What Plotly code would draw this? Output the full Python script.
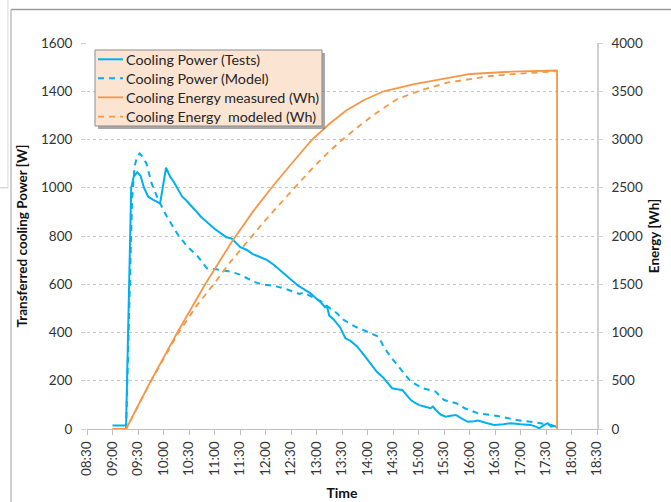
import pandas as pd
import plotly.graph_objects as go

DAY = "2020-06-15 "

# Cooling power measured during the test [W]
test_time = ["09:00", "09:15", "09:16", "09:22", "09:25", "09:29", "09:33", "09:37", "09:42", "09:48",
             "09:56", "10:03", "10:08", "10:12", "10:18", "10:22", "10:26", "10:32", "10:37", "10:44",
             "10:50", "10:55", "11:00", "11:08", "11:14", "11:20", "11:24", "11:30", "11:38", "11:45",
             "11:52", "12:02", "12:10", "12:20", "12:30", "12:38", "12:45", "12:53", "13:00", "13:05",
             "13:10", "13:12", "13:15", "13:20", "13:28", "13:34", "13:40", "13:48", "13:55", "14:00",
             "14:06", "14:11", "14:18", "14:25", "14:29", "14:35", "14:41", "14:46", "14:51", "14:55",
             "15:01", "15:08", "15:14", "15:17", "15:20", "15:26", "15:32", "15:38", "15:44", "15:50",
             "15:58", "16:05", "16:10", "16:20", "16:29", "16:40", "16:49", "17:00", "17:12", "17:18",
             "17:22", "17:27", "17:32", "17:36", "17:40", "17:43"]
test_power = [14, 14, 14, 1000, 1046, 1064, 1050, 1000, 963, 950,
              935, 1083, 1045, 1025, 990, 963, 950, 925, 908, 880,
              860, 845, 830, 810, 795, 790, 775, 755, 742, 725,
              715, 700, 680, 650, 617, 595, 580, 562, 540, 525,
              505, 512, 470, 455, 420, 376, 365, 341, 310, 286,
              260, 237, 215, 185, 169, 165, 162, 140, 120, 110,
              99, 92, 86, 93, 80, 60, 51, 55, 58, 45,
              30, 32, 35, 25, 17, 20, 24, 20, 17, 10,
              3, 15, 24, 10, 12, 8]

# Cooling power predicted by the model [W]
model_time = ["09:16", "09:20", "09:23", "09:26", "09:29", "09:32", "09:35", "09:40", "09:46", "09:54",
              "10:04", "10:16", "10:28", "10:39", "10:51", "11:00", "11:10", "11:19", "11:30", "11:40",
              "11:46", "11:55", "12:10", "12:20", "12:33", "12:40", "12:45", "12:57", "13:05", "13:11",
              "13:16", "13:20", "13:28", "13:32", "13:45", "13:56", "14:05", "14:13", "14:19", "14:27",
              "14:35", "14:43", "14:51", "15:05", "15:14", "15:20", "15:30", "15:45", "15:55", "16:10",
              "16:33", "16:50", "16:56", "17:20", "17:36", "17:42"]
model_power = [0, 500, 950, 1090, 1130, 1142, 1130, 1100, 1018, 949,
               880, 811, 756, 721, 666, 663, 658, 652, 640, 622,
               611, 600, 593, 585, 569, 560, 565, 542, 530, 514,
               500, 493, 465, 452, 425, 410, 395, 383, 341, 300,
               265, 230, 196, 169, 160, 155, 120, 106, 85, 65,
               54, 42, 37, 26, 17, 10]

# Cumulative cooling energy [Wh]
energy_meas_time = ["09:00", "09:16", "09:44", "10:16", "10:49", "11:00", "11:20", "11:45", "12:08", "12:33",
                    "12:55", "13:16", "13:35", "13:56", "14:19", "14:55", "15:30", "16:01", "16:49", "17:40",
                    "17:43", "17:43"]
energy_meas = [0, 0, 480, 995, 1500, 1655, 1935, 2250, 2510, 2775,
               3000, 3168, 3300, 3409, 3500, 3575, 3634, 3679, 3703, 3713,
               3715, 0]

energy_model_time = ["09:00", "09:16", "09:44", "10:16", "10:40", "10:59", "11:19", "11:39", "12:00", "12:28",
                     "12:55", "13:16", "13:28", "13:48", "14:07", "14:35", "15:03", "15:34", "16:01", "16:25",
                     "17:04", "17:37", "17:41"]
energy_model = [0, 0, 475, 975, 1290, 1500, 1735, 1950, 2165, 2440,
                2700, 2885, 2980, 3125, 3254, 3420, 3510, 3590, 3630, 3658,
                3686, 3703, 3705]

x_ticks_range = ["08:30", "18:30"]

series_names = ["Cooling Power (Tests)", "Cooling Power (Model)",
                "Cooling Energy measured (Wh)", "Cooling Energy  modeled (Wh)"]


def stamp(times):
    return pd.to_datetime([DAY + t for t in times])


BLUE = "#00B0F0"
ORANGE = "#F79646"
FONT = "Lato, 'Open Sans', sans-serif"
DASH = "6px,5px"

styles = [dict(color=BLUE, width=2),
          dict(color=BLUE, width=2, dash=DASH),
          dict(color=ORANGE, width=1.8),
          dict(color=ORANGE, width=1.8, dash=DASH)]

fig = go.Figure()
fig.add_trace(go.Scatter(x=stamp(test_time), y=test_power, mode="lines",
                         name=series_names[0], line=styles[0]))
fig.add_trace(go.Scatter(x=stamp(model_time), y=model_power, mode="lines",
                         name=series_names[1], line=styles[1]))
fig.add_trace(go.Scatter(x=stamp(energy_meas_time), y=energy_meas, mode="lines",
                         name=series_names[2], yaxis="y2", line=styles[2]))
fig.add_trace(go.Scatter(x=stamp(energy_model_time), y=energy_model, mode="lines",
                         name=series_names[3], yaxis="y2", line=styles[3]))

# outer chart frame
fig.add_shape(type="line", xref="paper", yref="paper", x0=-0.149, x1=1.2, y0=1.0868, y1=1.0868,
              line=dict(color="#9A9A9A", width=1.5))
fig.add_shape(type="line", xref="paper", yref="paper", x0=-0.149, x1=-0.149, y0=1.0868, y1=-0.2,
              line=dict(color="#B0B0B0", width=1.2))
fig.add_shape(type="line", xref="paper", yref="paper", x0=-0.155, x1=-0.155, y0=1.12, y1=0.625,
              line=dict(color="#D8D8D8", width=1))
fig.add_shape(type="line", xref="paper", yref="paper", x0=-0.175, x1=-0.155, y0=0.625, y1=0.625,
              line=dict(color="#C8C8C8", width=1))

# legend box (shadow, panel, line samples and labels)
fig.add_shape(type="rect", xref="paper", yref="paper", x0=0.0216, x1=0.4667, y0=0.7772, y1=0.9741,
              fillcolor="rgba(110,110,110,0.6)", line=dict(width=0), layer="above")
fig.add_shape(type="rect", xref="paper", yref="paper", x0=0.0157, x1=0.4608, y0=0.7850, y1=0.9819,
              fillcolor="#FCE4D2", line=dict(color="#8C8C8C", width=1), layer="above")
row_y = [0.9578, 0.9085, 0.8593, 0.8091]
for name, style, yy in zip(series_names, styles, row_y):
    fig.add_shape(type="line", xref="paper", yref="paper", x0=0.0216, x1=0.0706, y0=yy, y1=yy,
                  line=style, layer="above")
    fig.add_annotation(x=0.0725, y=yy, xref="paper", yref="paper", text=name, showarrow=False,
                       xanchor="left", yanchor="middle",
                       font=dict(family=FONT, size=14.3, color="#262626"))

fig.update_layout(
    width=671, height=502,
    margin=dict(l=87, r=74, t=43, b=73),
    paper_bgcolor="white", plot_bgcolor="white",
    font=dict(family=FONT, size=13.5, color="#333333"),
    showlegend=False,
    xaxis=dict(type="date", range=stamp(x_ticks_range), dtick=1800000, tick0=DAY + "08:30",
               tickformat="%H:%M", tickangle=-90, showgrid=False, automargin=False,
               showline=True, linecolor="#BFBFBF", linewidth=1,
               ticks="outside", ticklen=5, tickcolor="#BFBFBF", ticklabelstandoff=1,
               tickfont=dict(size=13.5, color="#333333"),
               title=dict(text="Time", font=dict(size=14, weight="bold", color="#111111"), standoff=13)),
    yaxis=dict(range=[0, 1600], dtick=200, showgrid=True, gridcolor="#C4C4C4", griddash="3px,3px",
               gridwidth=1, zeroline=False, showline=False, automargin=False,
               ticks="outside", ticklen=5, tickcolor="#D0D0D0", ticklabelstandoff=6,
               tickfont=dict(size=13.5, color="#333333"),
               title=dict(text="Transferred cooling Power [W]",
                          font=dict(size=13.5, weight="bold", color="#111111"), standoff=10)),
    yaxis2=dict(range=[0, 4000], dtick=500, overlaying="y", side="right", showgrid=False,
                zeroline=False, showline=True, linecolor="#D0D0D0", linewidth=1.5, automargin=False,
                ticks="outside", ticklen=4, tickcolor="#D0D0D0", ticklabelstandoff=6,
                tickfont=dict(size=13.5, color="#333333"),
                title=dict(text="Energy [Wh]", font=dict(size=13.5, weight="bold", color="#111111"),
                           standoff=8)),
)

fig.write_html("out.html")
